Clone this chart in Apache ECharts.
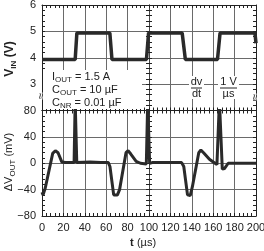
<!DOCTYPE html>
<html>
<head>
<meta charset="utf-8">
<script src="https://cdn.jsdelivr.net/npm/echarts@6/dist/echarts.min.js"></script>
<style>
  html, body { margin: 0; padding: 0; background: #fff; }
  #chart { width: 264px; height: 251px; }
</style>
</head>
<body>
<div id="chart"></div>
<script>
// time axis ticks (µs)
const timeTicks = [0, 20, 40, 60, 80, 100, 120, 140, 160, 180, 200]
// upper panel: V_IN (V)
const vinTime = [0, 31, 32.6, 63.4, 65.4, 97.6, 99.6, 131, 134, 164, 166.4, 199, 200]
const vinVolt = [3.93, 3.93, 4.94, 4.94, 3.93, 3.93, 4.94, 4.94, 3.93, 3.93, 4.94, 4.94, 4.55]
// lower panel: ΔV_OUT (mV)
const dvTime = [0, 1, 3, 10, 12.5, 15, 18.5, 22, 30, 31, 32.5, 34, 45, 55, 62, 63.5, 67, 70.5, 72.5,
  78.5, 80.5, 83, 88, 92, 97.5, 98.8, 100.6, 103, 120, 130.5, 132.5, 136, 138.5, 140.5, 146.5, 148.5,
  151, 156.5, 160, 163.5, 165.8, 168.5, 170.5, 174, 185, 200]
const dvOut = [-44, -48, -38, 15, 19, 16, 2, 1, 1, 95, 1, 1, 2, 1, 1, -5, -48, -48, -40,
  16, 19, 14, 3, 0, -1, 95, 0, 1, 1, 1, -5, -48, -49, -36, 16, 20,
  16, 6, 2, -2, 95, -9, -8, 0, 0, 0]

const ink = '#222'
const gridColor = '#6a6a6a'
const font = 'Liberation Sans, Arial, sans-serif'

const chart = echarts.init(document.getElementById('chart'))

function xAx(gridIndex, position, showLabel, showSplit) {
  return {
    type: 'value', gridIndex, position, min: 0, max: 200, interval: 20,
    axisLine: { show: true, onZero: false, lineStyle: { color: ink, width: 1 } },
    axisTick: { show: true, inside: true, length: 3, lineStyle: { color: ink } },
    minorTick: { show: true, splitNumber: 5, length: 3, lineStyle: { color: ink } },
    axisLabel: { show: showLabel, color: ink, fontSize: 11, fontFamily: font, margin: 6 },
    splitLine: { show: showSplit, lineStyle: { color: gridColor, width: 1 } }
  }
}

function yAx(gridIndex, position, min, max, interval, opts) {
  return Object.assign({
    type: 'value', gridIndex, position, min, max, interval,
    axisLine: { show: true, onZero: false, lineStyle: { color: ink, width: 1 } },
    axisTick: { show: true, inside: true, length: 3, lineStyle: { color: ink } },
    minorTick: { show: true, splitNumber: 5, length: 3, lineStyle: { color: ink } },
    axisLabel: { show: false },
    splitLine: { show: false }
  }, opts)
}

const vinLabel = {
  show: true, color: ink, fontSize: 11, fontFamily: font, margin: 6,
  formatter: (v) => (v === 2 ? '' : String(v))
}
const dvLabel = {
  show: true, color: ink, fontSize: 11, fontFamily: font, margin: 6,
  formatter: (v) => (v < 0 ? '\u2212' + (-v) : String(v))
}
const hSplit = { show: true, lineStyle: { color: gridColor, width: 1 } }
const center = { lineStyle: { color: '#444', width: 1 } }

const option = {
  animation: false,
  backgroundColor: '#fff',
  grid: [
    { left: 42, top: 5, width: 214, height: 105.5, outerBoundsMode: 'none' },
    { left: 42, top: 110.5, width: 214, height: 105.5, outerBoundsMode: 'none' }
  ],
  xAxis: [
    xAx(0, 'top', false, true),
    xAx(0, 'bottom', false, false),
    xAx(1, 'top', false, false),
    Object.assign(xAx(1, 'bottom', true, true), { data: timeTicks })
  ],
  yAxis: [
    yAx(0, 'left', 2, 6, 1, { axisLabel: vinLabel, splitLine: hSplit }),
    yAx(0, 'right', 2, 6, 1, {}),
    yAx(0, 'left', 2, 6, 1, { offset: -107, axisLine: Object.assign({ show: true, onZero: false }, center) }),
    yAx(0, 'right', 2, 6, 1, { offset: -107, axisLine: Object.assign({ show: true, onZero: false }, center) }),
    yAx(1, 'left', -80, 80, 40, { axisLabel: dvLabel, splitLine: hSplit }),
    yAx(1, 'right', -80, 80, 40, {}),
    yAx(1, 'left', -80, 80, 40, { offset: -107, axisLine: Object.assign({ show: true, onZero: false }, center) }),
    yAx(1, 'right', -80, 80, 40, { offset: -107, axisLine: Object.assign({ show: true, onZero: false }, center) })
  ],
  series: [
    {
      type: 'line', xAxisIndex: 0, yAxisIndex: 0, symbol: 'none', clip: true,
      lineStyle: { color: '#2a2a2a', width: 3.5 },
      data: vinTime.map((t, i) => [t, vinVolt[i]]),
      z: 5
    },
    {
      type: 'line', xAxisIndex: 3, yAxisIndex: 4, symbol: 'none', clip: true,
      lineStyle: { color: '#2a2a2a', width: 3 },
      data: dvTime.map((t, i) => [t, dvOut[i]]),
      z: 5
    }
  ],
  graphic: [
    // white box behind the conditions text
    { type: 'rect', z: 3, shape: { x: 43, y: 70, width: 99, height: 39 }, style: { fill: '#fff' } },
    {
      type: 'text', z: 4, left: 52, top: 71,
      style: {
        text: '{n|I}{s|OUT}{n| = 1.5 A}\n{n|C}{s|OUT}{n| = 10 µF}\n{n|C}{s|NR}{n| = 0.01 µF}',
        fill: ink, font: '11px ' + font,
        rich: {
          n: { fontSize: 11, fontFamily: font, lineHeight: 13, fill: ink, verticalAlign: 'top' },
          s: { fontSize: 8, fontFamily: font, lineHeight: 13, fill: ink, verticalAlign: 'bottom' }
        }
      }
    },
    // dv/dt fraction
    { type: 'rect', z: 3, shape: { x: 189, y: 76, width: 15, height: 23 }, style: { fill: '#fff' } },
    { type: 'rect', z: 3, shape: { x: 218, y: 76, width: 21, height: 23 }, style: { fill: '#fff' } },
    { type: 'text', z: 4, x: 196.5, y: 82, style: { text: 'dv', fill: ink, font: '11px ' + font, align: 'center', verticalAlign: 'middle' } },
    { type: 'text', z: 4, x: 196.5, y: 94, style: { text: 'dt', fill: ink, font: '11px ' + font, align: 'center', verticalAlign: 'middle' } },
    { type: 'line', z: 4, shape: { x1: 191, y1: 88, x2: 202, y2: 88 }, style: { stroke: ink, lineWidth: 1 } },
    { type: 'text', z: 4, x: 228.5, y: 82, style: { text: '1 V', fill: ink, font: '11px ' + font, align: 'center', verticalAlign: 'middle' } },
    { type: 'text', z: 4, x: 228.5, y: 94, style: { text: 'µs', fill: ink, font: '11px ' + font, align: 'center', verticalAlign: 'middle' } },
    { type: 'line', z: 4, shape: { x1: 220, y1: 88, x2: 237, y2: 88 }, style: { stroke: ink, lineWidth: 1 } },
    // axis break marks
    { type: 'text', z: 4, x: 42, y: 96, rotation: Math.PI / 2, style: { text: '≈', fill: ink, font: '12px ' + font, align: 'center', verticalAlign: 'middle', backgroundColor: '#fff' } },
    { type: 'text', z: 4, x: 256, y: 97, rotation: Math.PI / 2, style: { text: '≈', fill: ink, font: '12px ' + font, align: 'center', verticalAlign: 'middle', backgroundColor: '#fff' } },
    // axis titles
    {
      type: 'text', x: 11, y: 59, rotation: Math.PI / 2,
      style: {
        text: '{b|V}{bs|IN}{b| (V)}', align: 'center', verticalAlign: 'middle',
        rich: {
          b: { fontSize: 12, fontWeight: 'bold', fontFamily: font, fill: ink, lineHeight: 14, verticalAlign: 'top' },
          bs: { fontSize: 8, fontWeight: 'bold', fontFamily: font, fill: ink, lineHeight: 14, verticalAlign: 'bottom' }
        }
      }
    },
    {
      type: 'text', x: 10, y: 162, rotation: Math.PI / 2,
      style: {
        text: '{n|\u0394V}{s|OUT}{n| (mV)}', align: 'center', verticalAlign: 'middle',
        rich: {
          n: { fontSize: 11, fontFamily: font, fill: ink, lineHeight: 14, verticalAlign: 'top' },
          s: { fontSize: 8, fontFamily: font, fill: ink, lineHeight: 14, verticalAlign: 'bottom' }
        }
      }
    },
    {
      type: 'text', x: 143, y: 243,
      style: {
        text: '{b|t} {n|(µs)}', align: 'center', verticalAlign: 'middle',
        rich: {
          b: { fontSize: 11, fontWeight: 'bold', fontFamily: font, fill: ink },
          n: { fontSize: 11, fontFamily: font, fill: ink }
        }
      }
    }
  ]
}

chart.setOption(option)
</script>
</body>
</html>
